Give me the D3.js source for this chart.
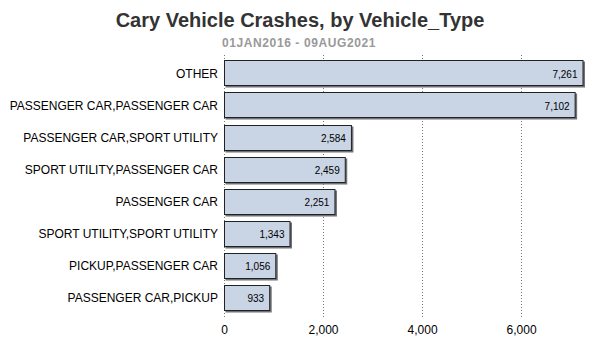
<!DOCTYPE html>
<html lang="en">
<head>
<meta charset="UTF-8">
<title>Cary Vehicle Crashes, by Vehicle_Type</title>
<script src="https://d3js.org/d3.v7.min.js"></script>
<style>
  body { margin: 0; background: #fff; }
  text { font-family: "Liberation Sans", Arial, sans-serif; }
</style>
</head>
<body>
<div id="chart"></div>
<script>
// data
const categories = [
  "OTHER",
  "PASSENGER CAR,PASSENGER CAR",
  "PASSENGER CAR,SPORT UTILITY",
  "SPORT UTILITY,PASSENGER CAR",
  "PASSENGER CAR",
  "SPORT UTILITY,SPORT UTILITY",
  "PICKUP,PASSENGER CAR",
  "PASSENGER CAR,PICKUP"
];
const crashes = [7261, 7102, 2584, 2459, 2251, 1343, 1056, 933];
const tickValues = [0, 2000, 4000, 6000];

const width = 600, height = 350;

const svg = d3.select("#chart").append("svg")
  .attr("width", width)
  .attr("height", height);

// scales
const x = d3.scaleLinear().domain([0, 7261]).range([224, 583.5]);
const y = d3.scaleBand().domain(categories).range([57.5, 314]).paddingInner(0.18).paddingOuter(0.09);

// titles
svg.append("text")
  .attr("x", 300).attr("y", 27)
  .attr("text-anchor", "middle")
  .style("font-size", "20px").style("font-weight", "bold").style("fill", "#333")
  .text("Cary Vehicle Crashes, by Vehicle_Type");

svg.append("text")
  .attr("x", 299).attr("y", 47)
  .attr("text-anchor", "middle")
  .style("font-size", "12px").style("font-weight", "bold").style("fill", "#999")
  .style("letter-spacing", "0.6px")
  .text("01JAN2016 - 09AUG2021");

// grid lines
svg.append("g").selectAll("line")
  .data(tickValues)
  .join("line")
  .attr("x1", d => Math.round(x(d)) + 0.5).attr("x2", d => Math.round(x(d)) + 0.5)
  .attr("y1", 55).attr("y2", 317)
  .attr("stroke", "#777").attr("stroke-width", 1)
  .attr("stroke-dasharray", "1,2");

// bars with shadow
const bars = svg.append("g").selectAll("g")
  .data(crashes)
  .join("g");

bars.append("rect")
  .attr("x", x(0) + 1.5)
  .attr("y", (d, i) => Math.round(y(categories[i])) + 1.5)
  .attr("width", d => x(d) - x(0))
  .attr("height", Math.round(y.bandwidth()))
  .attr("fill", "#6f7279");

bars.append("rect")
  .attr("x", x(0) + 0.5)
  .attr("y", (d, i) => Math.round(y(categories[i])) + 0.5)
  .attr("width", d => x(d) - x(0) - 1)
  .attr("height", Math.round(y.bandwidth()) - 1)
  .attr("fill", "#c9d4e4")
  .attr("stroke", "#222")
  .attr("stroke-width", 1);

bars.append("text")
  .attr("x", d => x(d) - 6)
  .attr("y", (d, i) => y(categories[i]) + y.bandwidth() / 2 + 4)
  .attr("text-anchor", "end")
  .style("font-size", "10px").style("fill", "#000")
  .text(d => d3.format(",")(d));

// category labels
svg.append("g").selectAll("text")
  .data(categories)
  .join("text")
  .attr("x", 218)
  .attr("y", d => y(d) + y.bandwidth() / 2 + 4)
  .attr("text-anchor", "end")
  .style("font-size", "12px").style("fill", "#000")
  .text(d => d);

// x axis labels
const xAxis = svg.append("g")
  .attr("transform", "translate(0,317)")
  .call(d3.axisBottom(x).tickValues(tickValues).tickSize(0).tickPadding(8).tickFormat(d3.format(",")));
xAxis.select(".domain").remove();
xAxis.selectAll("text")
  .style("font-size", "12px").style("fill", "#000")
  .style("font-family", "'Liberation Sans', Arial, sans-serif");
</script>
</body>
</html>
